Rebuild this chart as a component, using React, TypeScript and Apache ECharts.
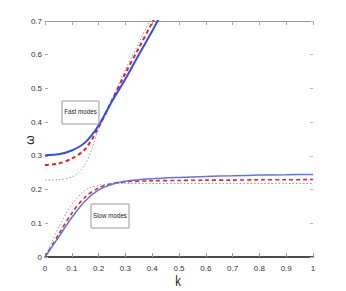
import React, { useEffect, useRef } from "react";
import * as echarts from "echarts";

const xTicks = ["0", "0.1", "0.2", "0.3", "0.4", "0.5", "0.6", "0.7", "0.8", "0.9", "1"];
const yTicks = ["0", "0.1", "0.2", "0.3", "0.4", "0.5", "0.6", "0.7"];

// Fast modes
const kFastBlue = [0, 0.05, 0.1, 0.15, 0.2, 0.25, 0.3, 0.35, 0.4, 0.42, 0.45];
const wFastBlue = [0.302, 0.305, 0.316, 0.34, 0.39, 0.462, 0.528, 0.6, 0.67, 0.7, 0.74];
const kFastRed = [0, 0.05, 0.1, 0.15, 0.2, 0.25, 0.3, 0.35, 0.4, 0.43];
const wFastRed = [0.273, 0.277, 0.292, 0.32, 0.385, 0.465, 0.545, 0.62, 0.695, 0.74];
const kFastGray = [0, 0.05, 0.1, 0.125, 0.15, 0.175, 0.2, 0.25, 0.3, 0.35, 0.39, 0.42];
const wFastGray = [0.228, 0.229, 0.237, 0.25, 0.275, 0.32, 0.38, 0.468, 0.555, 0.635, 0.7, 0.745];

// Slow modes
const kSlow = [0, 0.05, 0.1, 0.15, 0.2, 0.25, 0.3, 0.4, 0.5, 0.6, 0.7, 0.8, 0.9, 1];
const wSlowBlue = [0, 0.058, 0.117, 0.166, 0.199, 0.216, 0.225, 0.232, 0.236, 0.239, 0.241, 0.243, 0.244, 0.245];
const wSlowRed = [0, 0.066, 0.13, 0.178, 0.205, 0.218, 0.223, 0.226, 0.227, 0.228, 0.228, 0.229, 0.229, 0.23];
const wSlowGray = [0, 0.086, 0.156, 0.198, 0.213, 0.217, 0.218, 0.218, 0.218, 0.218, 0.218, 0.218, 0.218, 0.218];

const annotations = ["Fast modes", "Slow modes"];

const pairs = (ks: number[], ws: number[]) => ks.map((k, i) => [k, ws[i]]);

const FONT = "'Liberation Sans', Arial, sans-serif";

export default function App() {
  const ref = useRef<HTMLDivElement>(null);
  useEffect(() => {
    if (!ref.current) return;
    const chart = echarts.init(ref.current, null, { renderer: "svg" });
    const blue = "#2f4ff0";
    const red = "#f02020";
    const gray = "#9a9a9a";
    const line = (data: number[][], color: string, width: number, type: any) => ({
      type: "line",
      data,
      showSymbol: false,
      smooth: 0.3,
      clip: true,
      lineStyle: { color, width, type },
      xAxisIndex: 0,
      yAxisIndex: 0,
    });
    chart.setOption({
      animation: false,
      backgroundColor: "#ffffff",
      grid: { left: 45, right: 33, top: 21, bottom: 34, containLabel: false },
      xAxis: [
        {
          type: "value",
          min: 0,
          max: 1,
          interval: 0.1,
          position: "bottom",
          axisLine: { show: true, onZero: false, lineStyle: { color: "#111", width: 1.5 } },
          axisTick: { show: true, inside: true, length: 4, lineStyle: { color: "#999" } },
          splitLine: { show: false },
          axisLabel: {
            color: "#333",
            fontSize: 8,
            fontFamily: FONT,
            margin: 7,
            formatter: (v: number) => xTicks[Math.round(v * 10)],
          },
        },
        {
          type: "value",
          min: 0,
          max: 1,
          interval: 0.1,
          position: "top",
          axisLine: { show: true, onZero: false, lineStyle: { color: "#999", width: 1.2 } },
          axisTick: { show: true, inside: true, length: 4, lineStyle: { color: "#aaa" } },
          splitLine: { show: false },
          axisLabel: { show: false },
        },
      ],
      yAxis: [
        {
          type: "value",
          min: 0,
          max: 0.7,
          interval: 0.1,
          position: "left",
          axisLine: { show: false, onZero: false },
          axisTick: { show: true, inside: true, length: 3, lineStyle: { color: "#aaa" } },
          splitLine: { show: false },
          axisLabel: {
            color: "#333",
            fontSize: 8,
            fontFamily: FONT,
            margin: 3,
            formatter: (v: number) => yTicks[Math.round(v * 10)],
          },
        },
        {
          type: "value",
          min: 0,
          max: 0.7,
          interval: 0.1,
          position: "right",
          axisLine: { show: false, onZero: false },
          axisTick: { show: true, inside: true, length: 3, lineStyle: { color: "#bbb" } },
          splitLine: { show: false },
          axisLabel: { show: false },
        },
      ],
      series: [
        line(pairs(kFastGray, wFastGray), gray, 1, [1.5, 2]),
        line(pairs(kFastRed, wFastRed), red, 2, [4, 3]),
        line(pairs(kFastBlue, wFastBlue), blue, 2, "solid"),
        line(pairs(kSlow, wSlowGray), gray, 1, [1.5, 2]),
        line(pairs(kSlow, wSlowRed), red, 1.6, [4, 3]),
        line(pairs(kSlow, wSlowBlue), "#5a74f2", 1.5, "solid"),
      ],
      graphic: [
        {
          type: "rect",
          shape: { x: 62, y: 101, width: 37, height: 23 },
          style: { fill: "#fff", stroke: "#999", lineWidth: 1 },
          z: 10,
        },
        {
          type: "text",
          x: 80.5,
          y: 112,
          scaleX: 0.78,
          style: {
            text: annotations[0],
            fill: "#222",
            fontSize: 8,
            fontFamily: FONT,
            align: "center",
            verticalAlign: "middle",
          },
          z: 11,
        },
        {
          type: "rect",
          shape: { x: 91, y: 204, width: 38, height: 24 },
          style: { fill: "#fff", stroke: "#999", lineWidth: 1 },
          z: 10,
        },
        {
          type: "text",
          x: 110,
          y: 215.5,
          scaleX: 0.78,
          style: {
            text: annotations[1],
            fill: "#222",
            fontSize: 8,
            fontFamily: FONT,
            align: "center",
            verticalAlign: "middle",
          },
          z: 11,
        },
        {
          type: "text",
          x: 30,
          y: 140,
          rotation: Math.PI / 2,
          style: {
            text: "ω",
            fill: "#222",
            fontSize: 12,
            fontFamily: FONT,
            align: "center",
            verticalAlign: "middle",
          },
        },
        {
          type: "text",
          x: 178,
          y: 282,
          scaleX: 0.8,
          style: {
            text: "k",
            fill: "#222",
            fontSize: 14,
            fontFamily: FONT,
            align: "center",
            verticalAlign: "middle",
          },
        },
      ],
    });
    return () => chart.dispose();
  }, []);
  return <div ref={ref} style={{ width: 346, height: 291, position: "absolute", left: 0, top: 0 }} />;
}
